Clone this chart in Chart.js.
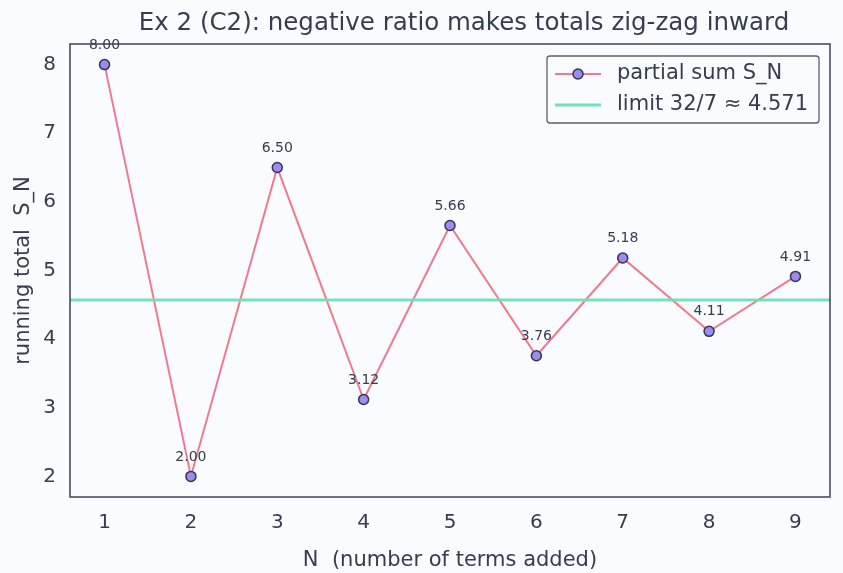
<!DOCTYPE html>
<html>
<head>
<meta charset="utf-8">
<script src="https://cdn.jsdelivr.net/npm/chart.js@4.4.1/dist/chart.umd.min.js"></script>
<style>
  html, body { margin: 0; padding: 0; background: #fafbfe; }
  #wrap { width: 843px; height: 573px; }
</style>
</head>
<body>
<div id="wrap"><canvas id="myChart" width="843" height="573"></canvas></div>
<script>
// data
const termCounts = [1, 2, 3, 4, 5, 6, 7, 8, 9];
const partialSums = [8.00, 2.00, 6.50, 3.12, 5.656, 3.758, 5.182, 4.114, 4.914];
const limitValue = 32 / 7;
const xRange = [0.6, 9.4];
const yRange = [1.7, 8.3];
const yTicks = [2, 3, 4, 5, 6, 7, 8];
const chartTitle = 'Ex 2 (C2): negative ratio makes totals zig-zag inward';
const seriesNames = ['partial sum S_N', 'limit 32/7 \u2248 4.571'];

const textColor = '#353d4f';
const frameColor = '#3a4254';
const lineColor = '#f07a8c';
const limitColor = '#6fe0b8';
const fontFamily = '"DejaVu Sans", sans-serif';

// value labels above each point
const pointLabels = {
    id: 'pointLabels',
    afterDatasetsDraw(chart) {
        const ctx = chart.ctx;
        const meta = chart.getDatasetMeta(0);
        ctx.save();
        ctx.font = '14px ' + fontFamily;
        ctx.fillStyle = textColor;
        ctx.textAlign = 'center';
        ctx.textBaseline = 'middle';
        meta.data.forEach((pt, i) => {
            ctx.fillText(partialSums[i].toFixed(2), pt.x, pt.y - 19.5);
        });
        ctx.restore();
    }
};

// title, box round the plot and the legend in the top right corner
const frameAndLegend = {
    id: 'frameAndLegend',
    afterDraw(chart) {
        const ctx = chart.ctx;
        const a = chart.chartArea;
        ctx.save();
        ctx.strokeStyle = frameColor;
        ctx.lineWidth = 1.5;
        ctx.strokeRect(a.left, a.top, a.right - a.left, a.bottom - a.top);

        // title
        ctx.font = '24.5px ' + fontFamily;
        ctx.fillStyle = textColor;
        ctx.textAlign = 'center';
        ctx.textBaseline = 'middle';
        ctx.fillText(chartTitle, 464, 24);

        // legend
        const bx = 547, by = 56, bw = 272, bh = 67;
        ctx.fillStyle = 'rgba(250,251,254,0.9)';
        ctx.strokeStyle = '#5a6070';
        ctx.lineWidth = 1.3;
        ctx.beginPath();
        ctx.roundRect(bx, by, bw, bh, 3);
        ctx.fill();
        ctx.stroke();

        const y1 = 74, y2 = 105;
        ctx.lineWidth = 2;
        ctx.strokeStyle = lineColor;
        ctx.beginPath();
        ctx.moveTo(555, y1); ctx.lineTo(601, y1);
        ctx.stroke();
        ctx.beginPath();
        ctx.arc(578, y1, 5, 0, Math.PI * 2);
        ctx.fillStyle = '#9b8cf0';
        ctx.fill();
        ctx.lineWidth = 1.5;
        ctx.strokeStyle = '#34344e';
        ctx.stroke();

        ctx.lineWidth = 3;
        ctx.strokeStyle = limitColor;
        ctx.beginPath();
        ctx.moveTo(555, y2); ctx.lineTo(601, y2);
        ctx.stroke();

        ctx.font = '21px ' + fontFamily;
        ctx.fillStyle = textColor;
        ctx.textAlign = 'left';
        ctx.textBaseline = 'middle';
        ctx.fillText(seriesNames[0], 617, y1);
        ctx.fillText(seriesNames[1], 617, y2);
        ctx.restore();
    }
};

const ctx = document.getElementById('myChart').getContext('2d');

const myChart = new Chart(ctx, {
    type: 'scatter',
    data: {
        datasets: [
            {
                label: seriesNames[0],
                data: termCounts.map((n, i) => ({ x: n, y: partialSums[i] })),
                showLine: true,
                borderColor: lineColor,
                borderWidth: 2,
                pointBackgroundColor: '#9b8cf0',
                pointBorderColor: '#34344e',
                pointBorderWidth: 1.5,
                pointRadius: 5,
                order: 2,
            },
            {
                label: seriesNames[1],
                data: [{ x: xRange[0], y: limitValue }, { x: xRange[1], y: limitValue }],
                showLine: true,
                borderColor: 'rgba(111,224,184,0.95)',
                borderWidth: 3,
                pointRadius: 0,
                order: 1,
            },
        ],
    },
    options: {
        responsive: false,
        animation: false,
        layout: { padding: { left: 0, right: 13, top: 44, bottom: 0 } },
        plugins: {
            legend: { display: false },
            tooltip: { enabled: false },
            title: { display: false },
        },
        scales: {
            x: {
                type: 'linear',
                min: xRange[0],
                max: xRange[1],
                afterBuildTicks: (scale) => { scale.ticks = termCounts.map(v => ({ value: v })); },
                afterFit: (scale) => { scale.height = 76; },
                grid: { display: false, drawTicks: true, tickLength: 5, tickColor: frameColor, tickWidth: 1.3 },
                border: { display: false },
                ticks: { color: textColor, font: { family: fontFamily, size: 20 }, padding: 8.5 },
                title: {
                    display: true,
                    text: 'N  (number of terms added)',
                    color: textColor,
                    font: { family: fontFamily, size: 21 },
                    padding: { top: 11.4, bottom: 0 },
                },
            },
            y: {
                min: yRange[0],
                max: yRange[1],
                afterBuildTicks: (scale) => { scale.ticks = yTicks.map(v => ({ value: v })); },
                afterFit: (scale) => { scale.width = 70; },
                grid: { display: false, drawTicks: true, tickLength: 5, tickColor: frameColor, tickWidth: 1.3 },
                border: { display: false },
                ticks: { color: textColor, font: { family: fontFamily, size: 20 }, padding: 9 },
                title: {
                    display: true,
                    text: 'running total  S_N',
                    color: textColor,
                    font: { family: fontFamily, size: 21 },
                    padding: { top: 11, bottom: 4 },
                },
            },
        },
    },
    plugins: [pointLabels, frameAndLegend],
});
</script>
</body>
</html>
